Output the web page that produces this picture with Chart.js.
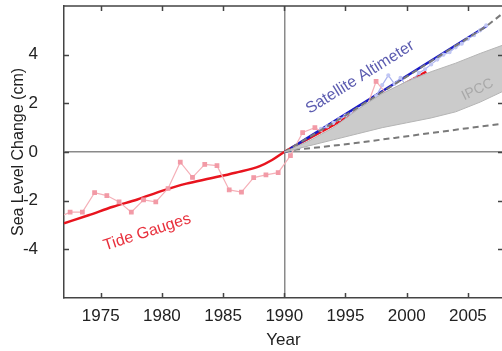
<!DOCTYPE html>
<html lang="en">
<head>
    <meta charset="UTF-8">
    <title>Sea Level Change</title>
    <script src="https://cdn.jsdelivr.net/npm/chart.js"></script>
    <style>
        html, body {
            margin: 0;
            padding: 0;
            background: #ffffff;
            overflow: hidden;
        }
        #wrap {
            width: 502px;
            height: 351px;
            overflow: hidden;
        }
    </style>
</head>
<body>
    <div id="wrap"><canvas id="chart" width="505" height="351"></canvas></div>
    <script>
        // axis ticks
        const xTicks = [1975, 1980, 1985, 1990, 1995, 2000, 2005];
        const yTicks = [-4, -2, 0, 2, 4];

        // tide gauges, yearly values (light red with markers)
        const tideYears = [1971.5, 1972.5, 1973.5, 1974.5, 1975.5, 1976.5, 1977.5, 1978.5, 1979.5, 1980.5,
            1981.5, 1982.5, 1983.5, 1984.5, 1985.5, 1986.5, 1987.5, 1988.5, 1989.5, 1990.5,
            1991.5, 1992.5, 1993.5, 1994.5, 1995.5, 1996.5, 1997.5, 1998.5, 1999.5, 2000.5, 2001.5];
        const tideValues = [-2.7, -2.47, -2.47, -1.67, -1.79, -2.05, -2.47, -1.97, -2.05, -1.5,
            -0.42, -1.04, -0.51, -0.56, -1.56, -1.65, -1.05, -0.94, -0.85, -0.15,
            0.8, 1.0, 0.7, 0.9, 1.2, 1.5, 2.9, 2.3, 2.4, 2.7, 3.1];

        // tide gauges, smoothed curve (red)
        const tideFitYears = [1972, 1974, 1976, 1978, 1980, 1982, 1984, 1986, 1988, 1989, 1990,
            1992, 1994, 1996, 1998, 2000, 2001.6];
        const tideFitValues = [-2.93, -2.6, -2.25, -1.95, -1.6, -1.3, -1.08, -0.85, -0.58, -0.33, 0,
            0.55, 1.1, 1.7, 2.3, 2.85, 3.3];

        // satellite altimeter data (light blue) and trend (blue)
        const altYears = [1993, 1993.5, 1994, 1994.5, 1995, 1995.5, 1996, 1996.5, 1997, 1997.5,
            1998, 1998.5, 1999, 1999.5, 2000, 2000.5, 2001, 2001.5, 2002, 2002.5,
            2003, 2003.5, 2004, 2004.5, 2005, 2005.5, 2006, 2006.5];
        const altValues = [0.95, 1.05, 1.2, 1.35, 1.5, 1.55, 1.75, 1.9, 2.05, 2.3,
            2.75, 3.15, 2.8, 3.05, 2.7, 2.95, 3.25, 3.4, 3.6, 3.8,
            4.0, 4.1, 4.3, 4.45, 4.65, 4.8, 5.0, 5.2];
        const altFitYears = [1990.5, 2006.6];
        const altFitValues = [0.14, 5.2];

        // IPCC projections
        const bandYears = [1990, 1992, 1994, 1996, 1998, 2000, 2002, 2004, 2006, 2007.9];
        const bandUpper = [0, 0.45, 1.0, 1.75, 2.4, 2.9, 3.3, 3.65, 4.05, 4.4];
        const bandLower = [0, 0.25, 0.5, 0.75, 1.0, 1.2, 1.4, 1.65, 2.05, 2.5];
        const ipccYears = [1990, 1991, 1992, 1993, 1994, 1995, 1996, 1997, 1998, 1999,
            2000, 2001, 2002, 2003, 2004, 2005, 2006, 2007, 2007.9];
        const ipccValues = [0, 0.15, 0.32, 0.5, 0.72, 0.95, 1.1, 1.25, 1.42, 1.6,
            1.8, 1.98, 2.15, 2.32, 2.5, 2.72, 2.95, 3.15, 3.37];
        const greenYears = [2003.4, 2004, 2004.6, 2005.2];
        const greenValues = [2.39, 2.5, 2.63, 2.76];
        const magentaYears = [2005.2, 2006, 2007, 2007.9];
        const magentaValues = [2.76, 2.95, 3.15, 3.37];
        const highYears = [1990, 1995, 2000, 2005, 2006.6, 2007.9];
        const highValues = [0, 1.5, 3.1, 4.68, 5.2, 5.72];
        const lowYears = [1990, 1991, 1993, 1996, 1999, 2002, 2005, 2007.9];
        const lowValues = [0, 0.1, 0.2, 0.38, 0.58, 0.78, 0.98, 1.17];

        const pts = (xs, ys) => xs.map((x, i) => ({ x: x, y: ys[i] }));
        const FONT = 'Liberation Sans, Arial, sans-serif';

        // text written on the plot
        const notes = [
            { text: 'Satellite Altimeter', x: 1996.2, y: 3.07, angle: -32, color: '#5c5cb0', size: 16 },
            { text: 'Tide Gauges', x: 1978.8, y: -3.3, angle: -18, color: '#e8303c', size: 16 },
            { text: 'IPCC', x: 2005.8, y: 2.56, angle: -26, color: '#a8a8a8', size: 14 }
        ];

        // fixed box sizes, no extra room for label overflow
        const fixSize = (s, w, h) => {
            if (w) s.width = w;
            if (h) s.height = h;
            s.paddingTop = 0;
            s.paddingBottom = 0;
            s.paddingLeft = 0;
            s.paddingRight = 0;
        };

        // top border, inward tick marks and the labels
        const framePlugin = {
            id: 'frame',
            afterDatasetsDraw(chart) {
                const ctx = chart.ctx;
                const area = chart.chartArea;
                const xs = chart.scales.x;
                const ys = chart.scales.y;
                ctx.save();
                ctx.strokeStyle = '#444';
                ctx.lineWidth = 1.5;
                ctx.beginPath();
                ctx.moveTo(area.left, area.top);
                ctx.lineTo(area.right, area.top);
                ctx.moveTo(area.right, area.top);
                ctx.lineTo(area.right, area.bottom);
                xTicks.forEach(v => {
                    const px = Math.round(xs.getPixelForValue(v)) + 0.5;
                    ctx.moveTo(px, area.bottom);
                    ctx.lineTo(px, area.bottom - 5);
                    ctx.moveTo(px, area.top);
                    ctx.lineTo(px, area.top + 5);
                });
                yTicks.forEach(v => {
                    const py = Math.round(ys.getPixelForValue(v)) + 0.5;
                    ctx.moveTo(area.left, py);
                    ctx.lineTo(area.left + 5, py);
                    ctx.moveTo(area.right, py);
                    ctx.lineTo(area.right - 5, py);
                });
                ctx.stroke();

                notes.forEach(n => {
                    ctx.save();
                    ctx.translate(xs.getPixelForValue(n.x), ys.getPixelForValue(n.y));
                    ctx.rotate(n.angle * Math.PI / 180);
                    ctx.font = n.size + 'px ' + FONT;
                    ctx.fillStyle = n.color;
                    ctx.textAlign = 'center';
                    ctx.textBaseline = 'middle';
                    ctx.fillText(n.text, 0, 0);
                    ctx.restore();
                });
                ctx.restore();
            }
        };

        const dashedGray = { borderColor: '#7a7a7a', borderWidth: 2, borderDash: [6, 4], pointRadius: 0, fill: false };

        new Chart(document.getElementById('chart').getContext('2d'), {
            type: 'line',
            data: {
                datasets: [
                    { data: pts(bandYears, bandUpper), borderColor: '#b4b4b4', borderWidth: 1, pointRadius: 0, fill: false },
                    { data: pts(bandYears, bandLower), borderColor: '#b4b4b4', borderWidth: 1, pointRadius: 0,
                      backgroundColor: '#cbcbcb', fill: '-1' },
                    Object.assign({ data: pts(lowYears, lowValues) }, dashedGray),
                    Object.assign({ data: pts(highYears, highValues) }, dashedGray),
                    { data: pts(greenYears, greenValues), borderColor: '#3ccf5a', borderWidth: 3, pointRadius: 0, fill: false },
                    { data: pts(magentaYears, magentaValues), borderColor: '#d23ce0', borderWidth: 3, pointRadius: 0, fill: false },
                    { data: pts(ipccYears, ipccValues), borderColor: '#2030c8', borderWidth: 2.5, borderDash: [7, 4],
                      pointRadius: 0, fill: false },
                    { data: pts(tideYears, tideValues), borderColor: '#f5b0b8', borderWidth: 1.2, pointStyle: 'rect',
                      pointRadius: 2.5, pointBackgroundColor: '#f29aa6', pointBorderColor: '#f29aa6', fill: false },
                    { data: pts(altYears, altValues), borderColor: '#aab2ee', borderWidth: 1.2,
                      pointRadius: 1.5, pointBackgroundColor: '#c0c6f4', pointBorderColor: '#c0c6f4', fill: false },
                    { data: pts(altFitYears, altFitValues), borderColor: '#1a1ac8', borderWidth: 2.5, pointRadius: 0, fill: false },
                    { data: pts(tideFitYears, tideFitValues), borderColor: '#e8141e', borderWidth: 2.5, pointRadius: 0,
                      cubicInterpolationMode: 'monotone', fill: false }
                ]
            },
            options: {
                responsive: false,
                animation: false,
                layout: { autoPadding: false, padding: { top: 6, right: 2, left: 0, bottom: 0 } },
                plugins: {
                    legend: { display: false },
                    tooltip: { enabled: false }
                },
                scales: {
                    x: {
                        type: 'linear',
                        min: 1972,
                        max: 2007.87,
                        afterFit: s => fixSize(s, 0, 53),
                        afterBuildTicks: s => { s.ticks = xTicks.map(v => ({ value: v })); },
                        ticks: { padding: 8, color: '#222', font: { family: FONT, size: 17 }, callback: v => String(v) },
                        grid: {
                            drawTicks: false,
                            lineWidth: 1.5,
                            color: c => (c.tick && c.tick.value === 1990) ? '#8a8a8a' : 'rgba(0,0,0,0)'
                        },
                        border: { color: '#444', width: 1.5 },
                        title: { display: true, text: 'Year', color: '#222', font: { family: FONT, size: 17 },
                                 padding: { top: 0, bottom: 0 } }
                    },
                    y: {
                        min: -6,
                        max: 6,
                        afterFit: s => fixSize(s, 64, 0),
                        afterBuildTicks: s => { s.ticks = yTicks.map(v => ({ value: v })); },
                        ticks: { padding: 26, color: '#222', font: { family: FONT, size: 17 } },
                        grid: {
                            drawTicks: false,
                            lineWidth: 1.5,
                            color: c => (c.tick && c.tick.value === 0) ? '#8a8a8a' : 'rgba(0,0,0,0)'
                        },
                        border: { color: '#444', width: 1.5 },
                        title: { display: true, text: 'Sea Level Change (cm)', color: '#222',
                                 font: { family: FONT, size: 16 }, padding: { top: 9, bottom: 0 } }
                    }
                }
            },
            plugins: [framePlugin]
        });
    </script>
</body>
</html>
